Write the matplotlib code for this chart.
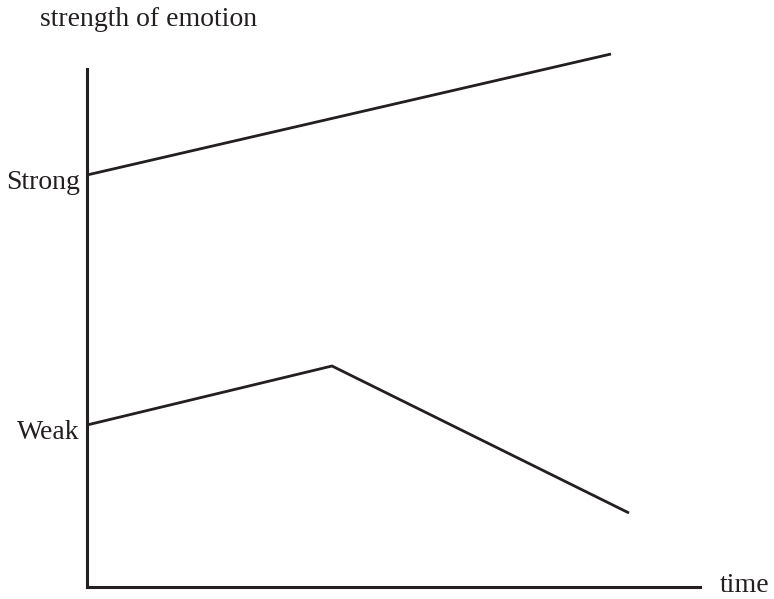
import matplotlib.pyplot as plt

# emotion strength over time, two trajectories
strong_time = [0, 524]
strong_level = [412, 533]
weak_time = [0, 245, 542]
weak_level = [162, 221, 74]

level_ticks = [412, 162]
level_labels = ["Strong", "Weak"]

ink = "#231f20"
plt.rcParams["font.family"] = "Liberation Serif"

fig = plt.figure(figsize=(7.74, 5.99), dpi=100)
ax = fig.add_axes([0, 0, 1, 1])
ax.set_xlim(-87, 687)
ax.set_ylim(-12, 587)

# axes drawn as bare spines through the origin
for side in ["top", "right"]:
    ax.spines[side].set_visible(False)
ax.spines["left"].set_position(("data", 0))
ax.spines["bottom"].set_position(("data", 0))
ax.spines["left"].set_bounds(0, 518)
ax.spines["bottom"].set_bounds(0, 613)
for side in ["left", "bottom"]:
    ax.spines[side].set_linewidth(2.2)
    ax.spines[side].set_color(ink)
ax.set_xticks([])
ax.set_yticks([])
ax.patch.set_visible(False)

ax.plot(strong_time, strong_level, color=ink, lw=2.0, solid_capstyle="butt")
ax.plot(weak_time, weak_level, color=ink, lw=2.0, solid_capstyle="butt")

for y, lab in zip(level_ticks, level_labels):
    ax.text(-7, y - 14, lab, ha="right", va="baseline", fontsize=20, color=ink)

ax.text(633, -5, "time", ha="left", va="baseline", fontsize=20, color=ink)
ax.text(-47, 561, "strength of emotion", ha="left", va="baseline",
        fontsize=20, color=ink)

fig.savefig("out.png", dpi=100)
